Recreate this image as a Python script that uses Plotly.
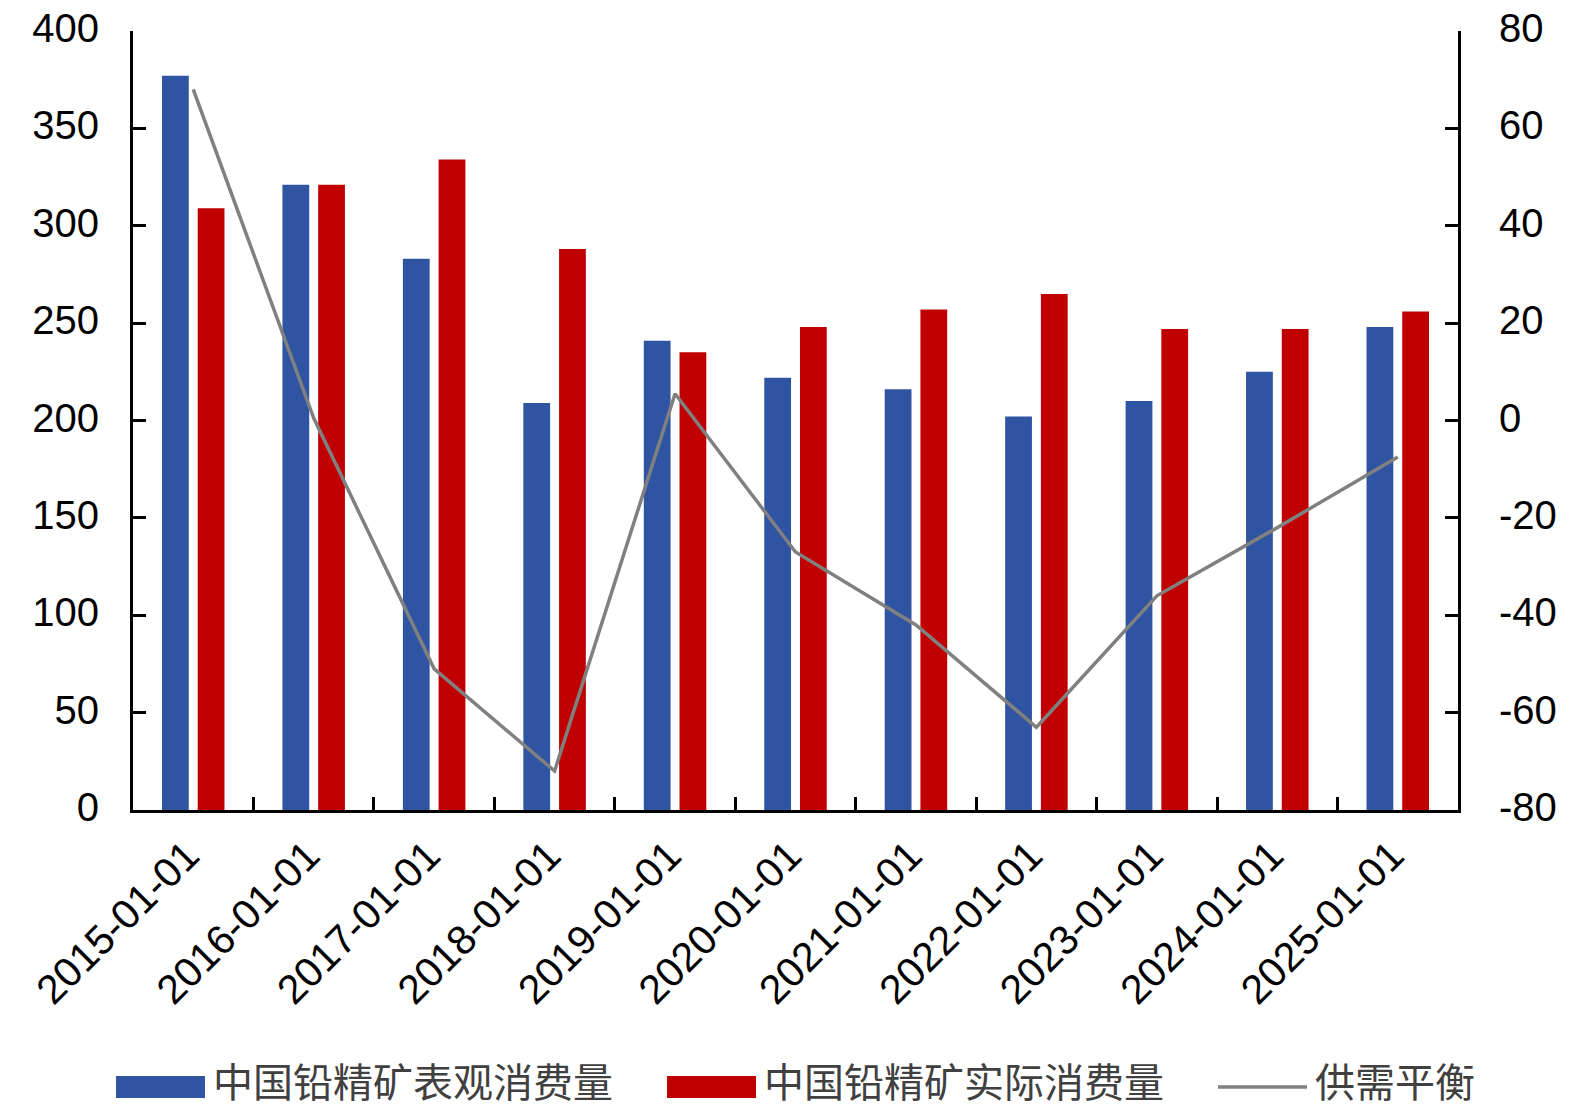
import plotly.graph_objects as go

categories = ["2015-01-01", "2016-01-01", "2017-01-01", "2018-01-01", "2019-01-01",
              "2020-01-01", "2021-01-01", "2022-01-01", "2023-01-01", "2024-01-01", "2025-01-01"]
apparent = [377, 321, 283, 209, 241, 222, 216, 202, 210, 225, 248]
actual = [309, 321, 334, 288, 235, 248, 257, 265, 247, 247, 256]
balance = [68, 0.5, -51, -72, 5.5, -27, -42, -63, -36, -22, -7.5]

left_ticks = [0, 50, 100, 150, 200, 250, 300, 350, 400]
right_ticks = [-80, -60, -40, -20, 0, 20, 40, 60, 80]
right_tick_text = ["-80", "-60", "-40", "-20", "0", "20", "40", "60", "80"]

name_apparent = "中国铅精矿表观消费量"
name_actual = "中国铅精矿实际消费量"
name_balance = "供需平衡"

W, H = 1585, 1109
L, R, T, B = 133, 1458, 31, 810
BLUE = "#2F54A2"
RED = "#C00000"
GRAY = "#808080"
FONT = "Arial, Liberation Sans, sans-serif"
CJK = "Noto Sans CJK SC"

fig = go.Figure()
fig.add_trace(go.Bar(x=categories, y=apparent, name=name_apparent, marker_color=BLUE,
                     marker_line_width=0, yaxis="y", showlegend=False))
fig.add_trace(go.Bar(x=categories, y=actual, name=name_actual, marker_color=RED,
                     marker_line_width=0, yaxis="y", showlegend=False))
fig.add_trace(go.Scatter(x=categories, y=balance, name=name_balance, mode="lines",
                         line=dict(color=GRAY, width=3.5), yaxis="y2", showlegend=False))


def px_x(px):
    return (px - L) / (R - L)


def px_y(py):
    return (B - py) / (B - T)


shapes = []
annotations = []
legend_items = [
    (116, 205, "rect", BLUE, name_apparent, 211),
    (667, 756, "rect", RED, name_actual, 762),
    (1218, 1307, "line", GRAY, name_balance, 1313),
]
for x0, x1, kind, color, label, tx in legend_items:
    if kind == "rect":
        shapes.append(dict(type="rect", xref="paper", yref="paper",
                           x0=px_x(x0), x1=px_x(x1), y0=px_y(1098), y1=px_y(1076),
                           fillcolor=color, line_width=0))
    else:
        shapes.append(dict(type="line", xref="paper", yref="paper",
                           x0=px_x(x0), x1=px_x(x1), y0=px_y(1087), y1=px_y(1087),
                           line=dict(color=color, width=3.5)))
    annotations.append(dict(xref="paper", yref="paper", x=px_x(tx), y=px_y(1080),
                            xanchor="left", yanchor="middle", showarrow=False,
                            text=label, font=dict(family=CJK, size=40, color="#404040")))

fig.update_layout(
    width=W, height=H,
    margin=dict(l=L, r=W - R, t=T, b=H - B, pad=0, autoexpand=False),
    paper_bgcolor="white", plot_bgcolor="white",
    barmode="group", bargap=0.407, bargroupgap=0.25,
    font=dict(family=FONT, size=40, color="black"),
    shapes=shapes, annotations=annotations,
    xaxis=dict(type="category", showline=True, linecolor="black", linewidth=3, automargin=False,
               ticks="inside", tickson="boundaries", ticklen=13, tickwidth=2.5, tickcolor="black",
               tickangle=-45, tickfont=dict(size=41), ticklabelstandoff=2, ticklabelshift=-6,
               showgrid=False, zeroline=False),
    yaxis=dict(range=[0, 400], tickvals=left_ticks, showline=True, linecolor="black", linewidth=3,
               automargin=False,
               ticks="inside", ticklen=13, tickwidth=2.5, tickcolor="black",
               tickfont=dict(size=40), ticklabelstandoff=23, ticklabelshift=-3,
               showgrid=False, zeroline=False),
    yaxis2=dict(range=[-80, 80], tickvals=right_ticks, ticktext=right_tick_text,
                overlaying="y", side="right", automargin=False,
                showline=True, linecolor="black", linewidth=3,
                ticks="inside", ticklen=13, tickwidth=2.5, tickcolor="black",
                tickfont=dict(size=40), ticklabelstandoff=30, ticklabelshift=-3,
                showgrid=False, zeroline=False),
)

fig.write_html("out.html")
